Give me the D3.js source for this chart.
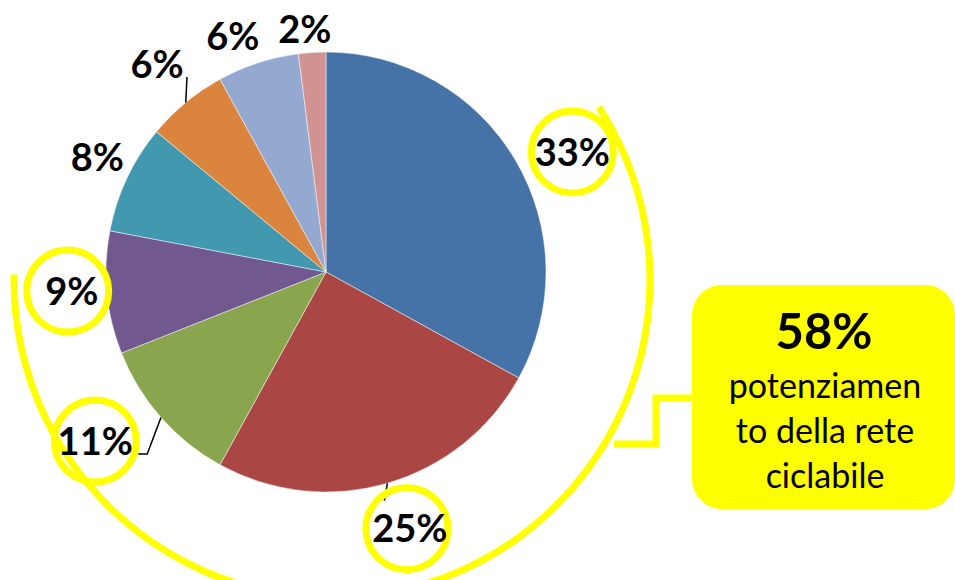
<!DOCTYPE html>
<html>
<head>
<meta charset="utf-8">
<script src="https://cdn.jsdelivr.net/npm/d3@7"></script>
<style>
  html, body { margin: 0; padding: 0; background: #fff; }
  svg { display: block; }
</style>
</head>
<body>
<svg id="chart" width="955" height="580"></svg>
<script>
// ---- data ----
const categories = ["Voce 1", "Voce 2", "Voce 3", "Voce 4", "Voce 5", "Voce 6", "Voce 7", "Voce 8"];
const values = [33, 25, 11, 9, 8, 6, 6, 2];
const valueLabels = ["33%", "25%", "11%", "9%", "8%", "6%", "6%", "2%"];
const colors = ["#4572A7", "#AA4643", "#89A54E", "#71588F", "#4198AF", "#DB843D", "#93A9CF", "#D19392"];
const highlighted = ["Voce 1", "Voce 2", "Voce 3", "Voce 4"];
const calloutValue = "58%";
const calloutLines = ["potenziamen", "to della rete", "ciclabile"];

// ---- layout ----
const W = 955, H = 580;
const cx = 326, cy = 272, R = 220;
// label placement per slice: radial distance and angular nudge (degrees)
const labelLayout = [
  { r: 274, da: 4.6 }, { r: 270, da: -1.9 }, { r: 286, da: 5.2 }, { r: 255, da: 1.1 },
  { r: 256, da: 1.5 }, { r: 268, da: 0.5 }, { r: 253, da: -3.6 }, { r: 244, da: -1.4 }
];
const yellow = "#FFFF00";

const svg = d3.select("#chart");
const g = svg.append("g").attr("transform", `translate(${cx},${cy})`);

const pie = d3.pie().sort(null).value(d => d.value);
const arcs = pie(categories.map((c, i) => ({ cat: c, value: values[i], label: valueLabels[i], color: colors[i] })));
const arcGen = d3.arc().innerRadius(0).outerRadius(R);

// big yellow arc (behind everything)
const bigArc = d3.arc()
  .innerRadius(314.5).outerRadius(321.5)
  .startAngle(57 * Math.PI / 180).endAngle(271 * Math.PI / 180);
g.append("path").attr("d", bigArc()).attr("transform", "translate(6,8)").attr("fill", yellow);

// slices
g.selectAll("path.slice").data(arcs).join("path")
  .attr("class", "slice")
  .attr("d", arcGen)
  .attr("fill", d => d.data.color)
  .attr("stroke", "#ffffff")
  .attr("stroke-opacity", 0.6)
  .attr("stroke-width", 0.8);

// label positions
function polar(angle, r) { return [r * Math.sin(angle), -r * Math.cos(angle)]; }
arcs.forEach((d, i) => {
  const mid = (d.startAngle + d.endAngle) / 2;
  const L = labelLayout[i];
  d.labelPos = polar(mid + L.da * Math.PI / 180, L.r);
  d.edgePos = polar(mid, R);
});

// leader lines
const leaderFor = {
  1: d => [d.edgePos, [d.edgePos[0] - 3, d.labelPos[1] - 28]],
  2: d => [d.edgePos, [d.labelPos[0] + 52, d.labelPos[1] + 13], [d.labelPos[0] + 43, d.labelPos[1] + 13]],
  5: d => [d.edgePos, [d.labelPos[0] + 30, d.labelPos[1] + 13]]
};
arcs.forEach((d, i) => {
  if (leaderFor[i]) {
    g.append("path")
      .attr("d", d3.line()(leaderFor[i](d)))
      .attr("fill", "none").attr("stroke", "#000").attr("stroke-width", 1.5);
  }
});

// highlight circles
const circleNudge = { "Voce 4": -4, "Voce 2": -3 };
g.selectAll("circle.hl").data(arcs.filter(d => highlighted.includes(d.data.cat))).join("circle")
  .attr("class", "hl")
  .attr("cx", d => d.labelPos[0] + (circleNudge[d.data.cat] || 0))
  .attr("cy", d => d.labelPos[1])
  .attr("r", 41)
  .attr("fill", "none")
  .attr("stroke", yellow)
  .attr("stroke-width", 7);

// labels
g.selectAll("text.lbl").data(arcs).join("text")
  .attr("class", "lbl")
  .attr("x", d => d.labelPos[0])
  .attr("y", d => d.labelPos[1])
  .attr("dy", "0.36em")
  .attr("text-anchor", "middle")
  .attr("font-family", "Lato, 'Open Sans', sans-serif")
  .attr("font-weight", "bold")
  .attr("font-size", 38)
  .attr("fill", "#000")
  .text(d => d.data.label);

// callout connector
svg.append("path")
  .attr("d", d3.line()([[694, 398], [656, 398], [656, 444], [614, 444]]))
  .attr("fill", "none").attr("stroke", yellow).attr("stroke-width", 7)
  .attr("stroke-linejoin", "miter");

// callout box
svg.append("rect")
  .attr("x", 692).attr("y", 285).attr("width", 263).attr("height", 224)
  .attr("rx", 30).attr("ry", 30)
  .attr("fill", yellow);

svg.append("text")
  .attr("x", 824).attr("y", 349)
  .attr("text-anchor", "middle")
  .attr("font-family", "Lato, 'Open Sans', sans-serif")
  .attr("font-weight", "bold")
  .attr("font-size", 49)
  .attr("fill", "#000")
  .text(calloutValue);

svg.selectAll("text.cl").data(calloutLines).join("text")
  .attr("class", "cl")
  .attr("x", 825)
  .attr("y", (d, i) => 398 + i * 45)
  .attr("text-anchor", "middle")
  .attr("font-family", "Lato, 'Open Sans', sans-serif")
  .attr("font-size", 34)
  .attr("fill", "#000")
  .text(d => d);
</script>
</body>
</html>
